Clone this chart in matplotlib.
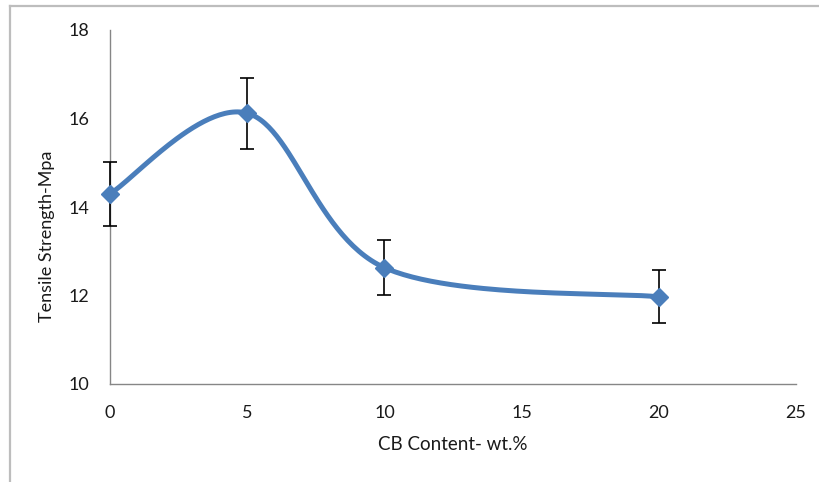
import numpy as np
import matplotlib
matplotlib.use("Agg")
import matplotlib.pyplot as plt
from matplotlib.lines import Line2D

# Tensile strength vs carbon black loading
cb_content = [0, 5, 10, 20]
tensile_strength = [14.3, 16.12, 12.63, 11.97]
strength_err = [0.72, 0.8, 0.62, 0.6]

x_ticks = [0, 5, 10, 15, 20, 25]
y_ticks = [10, 12, 14, 16, 18]

BLUE = "#4A7EBB"
AXIS_GREY = "#868686"
TEXT = "#1a1a1a"


def smooth_curve(xs, ys, n=60):
    """Piecewise cubic Bezier through points (Catmull-Rom style control points)."""
    pts = np.column_stack([xs, ys]).astype(float)
    ext = np.vstack([pts[0], pts, pts[-1]])
    out = []
    t = np.linspace(0, 1, n)[:, None]
    for i in range(1, len(ext) - 2):
        p0, p1, p2, p3 = ext[i - 1], ext[i], ext[i + 1], ext[i + 2]
        c1 = p1 + (p2 - p0) / 6.0
        c2 = p2 - (p3 - p1) / 6.0
        seg = ((1 - t) ** 3) * p1 + 3 * ((1 - t) ** 2) * t * c1 + 3 * (1 - t) * t ** 2 * c2 + t ** 3 * p2
        out.append(seg if i == 1 else seg[1:])
    seg = np.vstack(out)
    return seg[:, 0], seg[:, 1]


plt.rcParams["font.family"] = ["Lato", "DejaVu Sans"]

W, H = 820, 482
fig = plt.figure(figsize=(W / 100, H / 100), dpi=100)
ax = fig.add_axes([110 / W, 1 - 384 / H, (796 - 110) / W, (384 - 30) / H])

sx, sy = smooth_curve(cb_content, tensile_strength)
ax.plot(sx, sy, color=BLUE, lw=3.6, solid_capstyle="round", zorder=2, clip_on=False)
ax.errorbar(cb_content, tensile_strength, yerr=strength_err, fmt="none",
            ecolor="black", elinewidth=1.2, capsize=5, capthick=1.2, zorder=3,
            clip_on=False)
ax.plot(cb_content, tensile_strength, linestyle="none", marker="D",
        markersize=9, color=BLUE, zorder=4, clip_on=False)

ax.set_xlim(0, 25)
ax.set_ylim(10, 18)
ax.set_xticks(x_ticks)
ax.set_yticks(y_ticks)
ax.tick_params(length=0, labelsize=13, colors=TEXT)
ax.tick_params(axis="x", pad=15)
ax.tick_params(axis="y", pad=15)

for side in ("top", "right"):
    ax.spines[side].set_visible(False)
for side in ("left", "bottom"):
    ax.spines[side].set_color(AXIS_GREY)
    ax.spines[side].set_linewidth(1.0)

fig.text(453 / W, 1 - 445 / H, "CB Content- wt.%", fontsize=13.5, color=TEXT,
         ha="center", va="center")
fig.text(47 / W, 1 - 236 / H, "Tensile Strength-Mpa", fontsize=13, color=TEXT,
         ha="center", va="center", rotation=90)

# outer chart frame (left and top edges)
frame_kw = dict(color="#BDBDBD", lw=1.6, transform=fig.transFigure)
fig.add_artist(Line2D([10 / W, 10 / W], [0, 1 - 6 / H], **frame_kw))
fig.add_artist(Line2D([10 / W, 1], [1 - 6 / H, 1 - 6 / H], **frame_kw))

fig.savefig("out.png", dpi=100)
